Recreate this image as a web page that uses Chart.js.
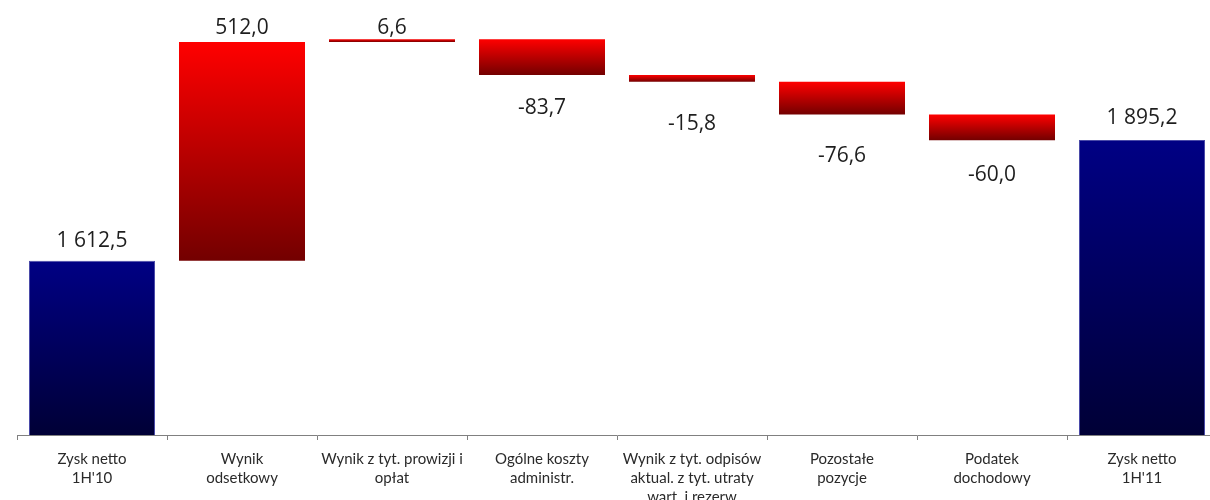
<!DOCTYPE html>
<html lang="pl">
<head>
<meta charset="utf-8">
<title>Zysk netto 1H'10 – 1H'11</title>
<script src="https://cdn.jsdelivr.net/npm/chart.js@4.4.1/dist/chart.umd.min.js"></script>
<style>
  html, body { margin: 0; padding: 0; background: #ffffff; overflow: hidden; }
  #wrap { width: 1234px; height: 500px; }
</style>
</head>
<body>
<div id="wrap"><canvas id="c" width="1234" height="500"></canvas></div>
<script>
// Category labels (multi-line)
const categories = [
  ["Zysk netto", "1H'10"],
  ["Wynik", "odsetkowy"],
  ["Wynik z tyt. prowizji i", "opłat"],
  ["Ogólne koszty", "administr."],
  ["Wynik z tyt. odpisów", "aktual. z tyt. utraty", "wart. i rezerw"],
  ["Pozostałe", "pozycje"],
  ["Podatek", "dochodowy"],
  ["Zysk netto", "1H'11"]
];

// Opening and closing totals, mln zł
const startTotal = 1612.5;
const endTotal = 1895.2;

// Changes between the two totals, mln zł
const changes = [512.0, 6.6, -83.7, -15.8, -76.6, -60.0];

// Visible range of the value axis
const axisMin = 1205;
const axisMax = 2223;

// Build floating bars: totals stand on the axis, changes float on the running sum
const barRanges = [];
const barKinds = [];
const labelValues = [];
barRanges.push([axisMin, startTotal]);
barKinds.push('total');
labelValues.push(startTotal);
let running = startTotal;
changes.forEach(v => {
  const next = running + v;
  barRanges.push([Math.min(running, next), Math.max(running, next)]);
  barKinds.push('change');
  labelValues.push(v);
  running = next;
});
barRanges.push([axisMin, endTotal]);
barKinds.push('total');
labelValues.push(endTotal);

// Distance (px) between a bar end and the centre of its value label
const labelGap = [21, 15, 12, 32, 41, 40, 34, 23];

function fmt(v) {
  const neg = v < 0;
  const s = Math.abs(v).toFixed(1).split('.');
  const int = s[0].replace(/\B(?=(\d{3})+(?!\d))/g, ' ');
  return (neg ? '-' : '') + int + ',' + s[1];
}

function barFill(ctx) {
  const chart = ctx.chart;
  const i = ctx.dataIndex;
  const y = chart.scales.y;
  if (!chart.chartArea || !y || i === undefined) {
    return barKinds[i] === 'total' ? '#000080' : '#ff0000';
  }
  const r = barRanges[i];
  const top = y.getPixelForValue(r[1]);
  const bottom = y.getPixelForValue(r[0]);
  const g = chart.ctx.createLinearGradient(0, top, 0, Math.max(bottom, top + 1));
  if (barKinds[i] === 'total') {
    g.addColorStop(0, '#000084');
    g.addColorStop(1, '#000036');
  } else {
    g.addColorStop(0, '#ff0000');
    g.addColorStop(1, '#730000');
  }
  return g;
}

// Value labels above rising bars and below falling ones
const valueLabels = {
  id: 'valueLabels',
  afterDatasetsDraw(chart) {
    const meta = chart.getDatasetMeta(0);
    const y = chart.scales.y;
    const c = chart.ctx;
    c.save();
    c.font = '21px "Open Sans", sans-serif';
    c.fillStyle = '#1e1e1e';
    c.textAlign = 'center';
    c.textBaseline = 'middle';
    meta.data.forEach((bar, i) => {
      const r = barRanges[i];
      const v = labelValues[i];
      let cy;
      if (v < 0) {
        cy = y.getPixelForValue(r[0]) + labelGap[i];
      } else {
        cy = y.getPixelForValue(r[1]) - labelGap[i];
      }
      c.fillText(fmt(v), bar.x, cy + 1);
    });
    c.restore();
  }
};

new Chart(document.getElementById('c'), {
  type: 'bar',
  data: {
    labels: categories,
    datasets: [{
      data: barRanges,
      backgroundColor: barFill,
      borderColor: ctx => barKinds[ctx.dataIndex] === 'total' ? '#4a4aa8' : 'rgba(0,0,0,0)',
      borderWidth: ctx => barKinds[ctx.dataIndex] === 'total' ? 1 : 0,
      borderSkipped: 'bottom',
      categoryPercentage: 1.0,
      barPercentage: 0.84
    }]
  },
  options: {
    responsive: false,
    devicePixelRatio: 1,
    animation: false,
    layout: { padding: { left: 17, right: 17, top: 0, bottom: 0 } },
    plugins: {
      legend: { display: false },
      tooltip: { enabled: false }
    },
    scales: {
      x: {
        offset: true,
        border: { display: true, color: '#808080', width: 1 },
        grid: {
          offset: true,
          drawOnChartArea: false,
          drawTicks: true,
          tickLength: 5,
          color: '#808080'
        },
        ticks: {
          color: '#2a2a2a',
          font: { family: 'Lato, sans-serif', size: 15, lineHeight: 1.25 },
          padding: 10,
          maxRotation: 0,
          autoSkip: false
        },
        afterFit(scale) { scale.height = 65; }
      },
      y: {
        display: false,
        min: axisMin,
        max: axisMax
      }
    }
  },
  plugins: [valueLabels]
});
</script>
</body>
</html>
